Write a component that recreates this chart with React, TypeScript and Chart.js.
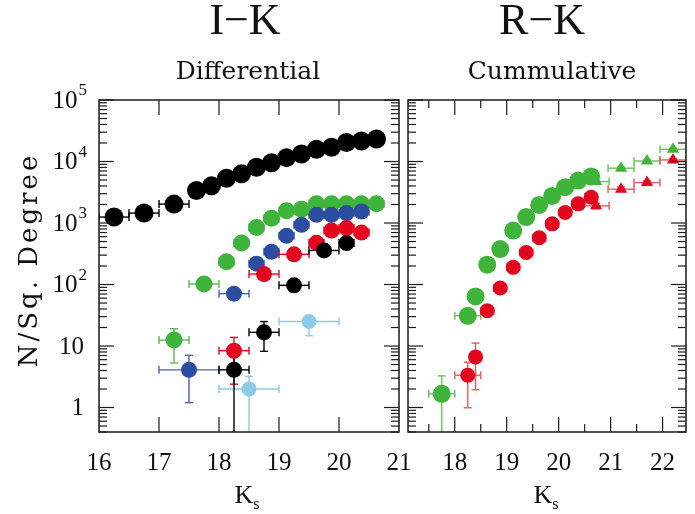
import React, { useEffect, useRef } from "react";
import { Chart, registerables } from "chart.js";

Chart.register(...registerables);

// ---------------- I−K  (Differential) ----------------
const ikBlackK = [16.25, 16.75, 17.25, 17.625, 17.875, 18.125, 18.375, 18.625, 18.875, 19.125, 19.375, 19.625, 19.875, 20.125, 20.375, 20.625];
const ikBlackN = [1250, 1450, 2030, 3370, 4020, 5350, 6300, 8070, 9570, 11560, 13200, 15800, 17000, 20300, 21600, 23300];
const ikBlackXErr = [0.25, 0.25, 0.25, 0.125, 0.125, 0.125, 0.125, 0.125, 0.125, 0.125, 0.125, 0.125, 0.125, 0.125, 0.125, 0.125];
const ikBlackYErr = [250, 280, 330, 450, 500, 600, 700, 850, 950, 1100, 1200, 1400, 1500, 1700, 1800, 1900];

const ikGreenK = [17.25, 17.75, 18.125, 18.375, 18.625, 18.875, 19.125, 19.375, 19.625, 19.875, 20.125, 20.375, 20.625];
const ikGreenN = [12.5, 102, 234, 472, 845, 1200, 1580, 1680, 2050, 2050, 2050, 2050, 2050];
const ikGreenXErr = [0.25, 0.25, 0.125, 0.125, 0.125, 0.125, 0.125, 0.125, 0.125, 0.125, 0.125, 0.125, 0.125];
const ikGreenYLo = [7.2, 20, 30, 45, 70, 90, 110, 115, 130, 130, 130, 130, 130];
const ikGreenYHi = [6.6, 20, 30, 45, 70, 90, 110, 115, 130, 130, 130, 130, 130];

const ikBlueK = [17.5, 18.25, 18.625, 18.875, 19.125, 19.375, 19.625, 19.875, 20.125, 20.375];
const ikBlueN = [4.1, 71, 218, 341, 620, 935, 1360, 1360, 1450, 1540];
const ikBlueXErr = [0.5, 0.25, 0.125, 0.125, 0.125, 0.125, 0.125, 0.125, 0.125, 0.125];
const ikBlueYLo = [2.9, 14, 25, 35, 50, 60, 80, 80, 85, 90];
const ikBlueYHi = [2.95, 14, 25, 35, 50, 60, 80, 80, 85, 90];

const ikRedK = [18.25, 18.75, 19.25, 19.625, 19.875, 20.125, 20.375];
const ikRedN = [8.4, 148, 310, 476, 755, 826, 700];
const ikRedXErr = [0.25, 0.25, 0.25, 0.125, 0.125, 0.125, 0.125];
const ikRedYLo = [6.0, 25, 35, 45, 60, 65, 60];
const ikRedYHi = [5.4, 25, 35, 45, 60, 65, 60];

const ikBlack2K = [18.25, 18.75, 19.25, 19.75, 20.125];
const ikBlack2N = [4.1, 16.7, 97, 358, 472];
const ikBlack2XErr = [0.25, 0.25, 0.25, 0.25, 0.125];
const ikBlack2YLo = [4.1, 8.5, 20, 40, 45];
const ikBlack2YHi = [2.4, 8.3, 20, 40, 45];

const ikCyanK = [18.5, 19.5];
const ikCyanN = [2.0, 25];
const ikCyanXErr = [0.5, 0.5];
const ikCyanYLo = [2.0, 10.3];
const ikCyanYHi = [1.2, 6.0];

// ---------------- R−K  (Cumulative) ----------------
const rkGreenK = [17.75, 18.25, 18.4, 18.625, 18.875, 19.125, 19.375, 19.625, 19.875, 20.125, 20.375, 20.625];
const rkGreenN = [1.67, 31, 64, 210, 377, 755, 1250, 1970, 2760, 3830, 4900, 5690];
const rkGreenXErr = [0.25, 0.25, 0.125, 0.125, 0.125, 0.125, 0.125, 0.125, 0.125, 0.125, 0.125, 0.125];
const rkGreenYLo = [1.67, 6, 9, 16, 22, 30, 40, 50, 60, 70, 80, 90];
const rkGreenYHi = [1.6, 6, 9, 16, 22, 30, 40, 50, 60, 70, 80, 90];

const rkGreenTriK = [20.72, 21.2, 21.7, 22.2];
const rkGreenTriN = [4720, 7780, 10200, 15800];
const rkGreenTriXErr = [0.25, 0.25, 0.25, 0.25];
const rkGreenTriYErr = [300, 400, 500, 700];

const rkRedK = [18.25, 18.4, 18.625, 18.875, 19.125, 19.375, 19.625, 19.875, 20.125, 20.375, 20.625];
const rkRedN = [3.35, 6.65, 37.5, 88, 190, 332, 575, 970, 1480, 2050, 2630];
const rkRedXErr = [0.25, 0.1, 0.125, 0.125, 0.125, 0.125, 0.125, 0.125, 0.125, 0.125, 0.125];
const rkRedYLo = [2.36, 4.7, 7, 10, 15, 20, 26, 33, 40, 48, 55];
const rkRedYHi = [2.1, 4.5, 7, 10, 15, 20, 26, 33, 40, 48, 55];

const rkRedTriK = [20.72, 21.2, 21.7, 22.2];
const rkRedTriN = [1900, 3550, 4540, 10600];
const rkRedTriXErr = [0.25, 0.25, 0.25, 0.25];
const rkRedTriYErr = [200, 300, 350, 600];

// ---------------- axes ----------------
const yMajorTicks = [1, 10, 100, 1000, 10000, 100000];
const yTickLabels = ["1", "10", "10^2", "10^3", "10^4", "10^5"];
const ikXTicks = [16, 17, 18, 19, 20, 21];
const ikXMinor: number[] = [];
const rkXTicks = [18, 19, 20, 21, 22];
const rkXMinor = [17.5, 18.5, 19.5, 20.5, 21.5];

const BLACK = "#000000";
const GREEN = "#3fb43a";
const BLUE = "#2c4ea0";
const RED = "#e2061f";
const CYAN = "#8ccbe8";

function pts(k: number[], n: number[]) {
  return k.map((x, i) => ({ x, y: n[i] }));
}

function ds(label: string, k: number[], n: number[], xErr: number[], yLo: number[], yHi: number[], color: string, radius: number, style = "circle", errColor?: string) {
  return {
    label,
    data: pts(k, n),
    xErr,
    yLo,
    yHi,
    errColor: errColor || color,
    backgroundColor: color,
    borderColor: color,
    borderWidth: 0,
    pointRadius: radius,
    pointHoverRadius: radius,
    pointStyle: style,
    showLine: false,
  } as any;
}

const errorBarPlugin = {
  id: "errbars",
  beforeDatasetsDraw(chart: any) {
    const { ctx, chartArea, scales } = chart;
    const xs = scales.x;
    const ys = scales.y;
    ctx.save();
    ctx.beginPath();
    ctx.rect(chartArea.left, chartArea.top, chartArea.right - chartArea.left, chartArea.bottom - chartArea.top);
    ctx.clip();
    ctx.lineWidth = 1.4;
    const cap = 4;
    const line = (a: number, b: number, c: number, d: number) => {
      ctx.beginPath();
      ctx.moveTo(a, b);
      ctx.lineTo(c, d);
      ctx.stroke();
    };
    for (let di = chart.data.datasets.length - 1; di >= 0; di--) {
      const d: any = chart.data.datasets[di];
      ctx.strokeStyle = d.errColor;
      d.data.forEach((p: any, i: number) => {
        const px = xs.getPixelForValue(p.x);
        const py = ys.getPixelForValue(p.y);
        const xe = d.xErr ? d.xErr[i] : 0;
        if (xe > 0) {
          const x1 = xs.getPixelForValue(p.x - xe);
          const x2 = xs.getPixelForValue(p.x + xe);
          line(x1, py, x2, py);
          line(x1, py - cap, x1, py + cap);
          line(x2, py - cap, x2, py + cap);
        }
        const lo = d.yLo ? d.yLo[i] : 0;
        const hi = d.yHi ? d.yHi[i] : 0;
        if (lo > 0 || hi > 0) {
          const low = p.y - lo;
          const y1 = low > 0.01 ? ys.getPixelForValue(low) : chartArea.bottom + 20;
          const y2 = ys.getPixelForValue(p.y + hi);
          line(px, y1, px, y2);
          line(px - cap, y1, px + cap, y1);
          line(px - cap, y2, px + cap, y2);
        }
      });
    }
    ctx.restore();
  },
};

const framePlugin = {
  id: "frame",
  afterDraw(chart: any, _args: any, opts: any) {
    const { ctx, chartArea, scales } = chart;
    const { left, right, top, bottom } = chartArea;
    const xs = scales.x;
    const ys = scales.y;
    ctx.save();
    ctx.strokeStyle = "#1a1a1a";
    ctx.lineWidth = 1.5;
    ctx.strokeRect(left, top, right - left, bottom - top);
    ctx.lineWidth = 1.2;
    const line = (a: number, b: number, c: number, d: number) => {
      ctx.beginPath();
      ctx.moveTo(a, b);
      ctx.lineTo(c, d);
      ctx.stroke();
    };
    const MAJ = 15;
    const MIN = 8;
    (opts.xMajor as number[]).forEach((v) => {
      const px = xs.getPixelForValue(v);
      if (px <= left + 1 || px >= right - 1) return;
      line(px, bottom, px, bottom - MAJ);
      line(px, top, px, top + MAJ);
    });
    (opts.xMinor as number[]).forEach((v) => {
      const px = xs.getPixelForValue(v);
      if (px <= left + 1 || px >= right - 1) return;
      line(px, bottom, px, bottom - MIN);
      line(px, top, px, top + MIN);
    });
    yMajorTicks.forEach((v) => {
      const py = ys.getPixelForValue(v);
      line(left, py, left + MAJ, py);
      line(right, py, right - MAJ, py);
    });
    const ymin = ys.min;
    const ymax = ys.max;
    for (let dec = 0.1; dec < ymax; dec *= 10) {
      for (let m = 2; m <= 9; m++) {
        const v = dec * m;
        if (v < ymin || v > ymax) continue;
        const py = ys.getPixelForValue(v);
        line(left, py, left + MIN, py);
        line(right, py, right - MIN, py);
      }
    }

    ctx.fillStyle = "#111";
    // x tick labels
    ctx.textAlign = "center";
    ctx.textBaseline = "middle";
    ctx.font = '25px "Liberation Serif"';
    (opts.xMajor as number[]).forEach((v) => {
      ctx.fillText(String(v), xs.getPixelForValue(v), bottom + 31);
    });

    // y tick labels
    if (opts.yLabels) {
      yMajorTicks.forEach((v, i) => {
        const py = ys.getPixelForValue(v) + 1;
        const lab = yTickLabels[i];
        ctx.textBaseline = "middle";
        ctx.textAlign = "right";
        if (lab.includes("^")) {
          const [base, exp] = lab.split("^");
          ctx.font = '17px "Liberation Serif"';
          const ew = ctx.measureText(exp).width;
          ctx.fillText(exp, 87, py - 10);
          ctx.font = '25px "Liberation Serif"';
          ctx.fillText(base, 87 - ew - 1, py);
        } else {
          ctx.font = '25px "Liberation Serif"';
          ctx.fillText(lab, 84, py);
        }
      });
      // y title
      ctx.save();
      ctx.translate(30, 260);
      ctx.rotate(-Math.PI / 2);
      ctx.textAlign = "center";
      ctx.textBaseline = "middle";
      ctx.font = '26px "DejaVu Serif"';
      try {
        (ctx as any).letterSpacing = "3px";
      } catch (e) {}
      ctx.fillText("N/Sq. Degree", 0, 0);
      ctx.restore();
    }

    // titles
    ctx.textAlign = "center";
    ctx.textBaseline = "alphabetic";
    ctx.font = '44px "Liberation Serif"';
    ctx.fillText(opts.title, opts.titleX, 34);
    ctx.font = '25px "DejaVu Serif"';
    ctx.fillText(opts.subtitle, opts.subtitleX, 79);

    // x title K_s
    ctx.font = '26px "Liberation Serif"';
    const kw = ctx.measureText("K").width;
    ctx.font = '16px "Liberation Serif"';
    const sw = ctx.measureText("s").width;
    const x0 = opts.kX - (kw + sw) / 2;
    ctx.textAlign = "left";
    ctx.font = '26px "Liberation Serif"';
    ctx.fillText("K", x0, 503);
    ctx.font = '16px "Liberation Serif"';
    ctx.fillText("s", x0 + kw, 509);
    ctx.restore();
  },
};

function makeConfig(datasets: any[], xmin: number, xmax: number, xTicks: number[], xMinor: number[], padding: any, frame: any) {
  return {
    type: "scatter",
    data: { datasets },
    options: {
      animation: false,
      responsive: false,
      maintainAspectRatio: false,
      layout: { padding },
      plugins: {
        legend: { display: false },
        tooltip: { enabled: false },
        frame: { ...frame, xMajor: xTicks, xMinor },
      },
      scales: {
        x: {
          type: "linear",
          position: "bottom",
          min: xmin,
          max: xmax,
          display: false,
        },
        y: {
          type: "logarithmic",
          min: 0.4,
          max: 100000,
          display: false,
        },
      },
    },
    plugins: [errorBarPlugin, framePlugin],
  } as any;
}

export default function App() {
  const leftRef = useRef<HTMLCanvasElement>(null);
  const rightRef = useRef<HTMLCanvasElement>(null);

  useEffect(() => {
    const leftSets = [
      ds("I-K black", ikBlackK, ikBlackN, ikBlackXErr, ikBlackYErr, ikBlackYErr, BLACK, 9.5),
      ds("I-K black faint", ikBlack2K, ikBlack2N, ikBlack2XErr, ikBlack2YLo, ikBlack2YHi, BLACK, 8),
      ds("I-K cyan", ikCyanK, ikCyanN, ikCyanXErr, ikCyanYLo, ikCyanYHi, CYAN, 7.5),
      ds("I-K red", ikRedK, ikRedN, ikRedXErr, ikRedYLo, ikRedYHi, RED, 8),
      ds("I-K blue", ikBlueK, ikBlueN, ikBlueXErr, ikBlueYLo, ikBlueYHi, BLUE, 8, "circle", "#4a64a8"),
      ds("I-K green", ikGreenK, ikGreenN, ikGreenXErr, ikGreenYLo, ikGreenYHi, GREEN, 8.5, "circle", "#5cb84f"),
    ];
    const rightSets = [
      ds("R-K red tri", rkRedTriK, rkRedTriN, rkRedTriXErr, rkRedTriYErr, rkRedTriYErr, RED, 7, "triangle", "#ea5a5a"),
      ds("R-K red", rkRedK, rkRedN, rkRedXErr, rkRedYLo, rkRedYHi, RED, 7.5, "circle", "#ea5a5a"),
      ds("R-K green tri", rkGreenTriK, rkGreenTriN, rkGreenTriXErr, rkGreenTriYErr, rkGreenTriYErr, GREEN, 7, "triangle", "#6cc060"),
      ds("R-K green", rkGreenK, rkGreenN, rkGreenXErr, rkGreenYLo, rkGreenYHi, GREEN, 9, "circle", "#6cc060"),
    ];
    const c1 = new Chart(
      leftRef.current as HTMLCanvasElement,
      makeConfig(leftSets, 16, 21, ikXTicks, ikXMinor, { left: 99, right: 21, top: 100, bottom: 82 }, {
        yLabels: true,
        title: "I\u2212K",
        titleX: 245,
        subtitle: "Differential",
        subtitleX: 248,
        kX: 247,
      })
    );
    const c2 = new Chart(
      rightRef.current as HTMLCanvasElement,
      makeConfig(rightSets, 17.1, 22.45, rkXTicks, rkXMinor, { left: 0, right: 1, top: 100, bottom: 82 }, {
        yLabels: false,
        title: "R\u2212K",
        titleX: 143,
        subtitle: "Cummulative",
        subtitleX: 153,
        kX: 147,
      })
    );
    return () => {
      c1.destroy();
      c2.destroy();
    };
  }, []);

  return (
    <div style={{ position: "absolute", left: 0, top: 0, width: 695, height: 514, background: "#fff", overflow: "hidden" }}>
      <canvas ref={leftRef} width={420} height={514} style={{ position: "absolute", left: 0, top: 0, width: 420, height: 514 }} />
      <canvas ref={rightRef} width={296} height={514} style={{ position: "absolute", left: 399, top: 0, width: 296, height: 514 }} />
    </div>
  );
}
